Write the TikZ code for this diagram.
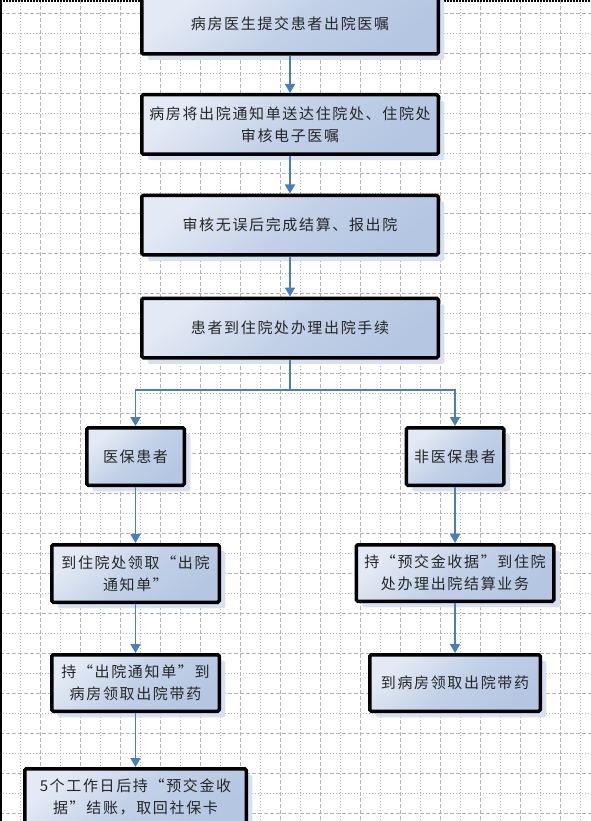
\documentclass[tikz,border=0pt]{standalone}
\usepackage{fontspec}
\newfontfamily\cjk[LetterSpace=11]{Noto Sans CJK SC}
\usepackage{tikz}
\usetikzlibrary{arrows.meta, positioning, calc, shadows}

\definecolor{flowblue}{RGB}{74,126,187}
\definecolor{boxlight}{RGB}{228,234,245}
\definecolor{boxdark}{RGB}{180,198,226}
\definecolor{shadeblue}{RGB}{214,224,241}
\definecolor{gridgray}{RGB}{180,180,180}

\begin{document}
\begin{tikzpicture}[
    x=1pt, y=-1pt,
    >=Triangle,
    box/.style={draw=black, line width=3.5pt, rounded corners=1.5pt,
        top color=boxlight, bottom color=boxdark, middle color=boxdark!70!boxlight,
        shading angle=40, inner sep=0pt, align=center,
        font=\cjk\fontsize{15}{22}\selectfont, text=black!85,
        drop shadow={shadow xshift=6pt, shadow yshift=-6pt, fill=shadeblue, opacity=1}},
    flow/.style={draw=flowblue, line width=1.8pt, -{Triangle[width=10pt, length=9pt]}},
    major/.style={gridgray, line width=0.8pt, dash pattern=on 4pt off 2pt},
    minor/.style={gridgray, line width=0.8pt, dash pattern=on 1pt off 2pt},
]
\useasboundingbox (0, 0) rectangle (591, 821);
\clip (0, 0) rectangle (591, 821);
% === Drawing grid ===
\foreach \x in {0, 40, ..., 560} {
    \draw[major] (\x, 0) -- (\x, 821);
}
\foreach \x in {20, 60, ..., 580} {
    \draw[minor] (\x, 0) -- (\x, 821);
}
\foreach \y in {13, 53, ..., 813} {
    \draw[major] (0, \y) -- (591, \y);
}
\foreach \y in {33, 73, ..., 813} {
    \draw[minor] (0, \y) -- (591, \y);
}
% Page edges
\draw[line width=2.5pt] (1.2, 0) -- (1.2, 821);
\draw[line width=2pt, dash pattern=on 2pt off 1pt] (0, 1) -- (591, 1);
% === Main column ===
\node[box, minimum width=296.5, minimum height=60] (prescribe) at (290, 24) {病房医生提交患者出院医嘱};
\node[box, minimum width=296.5, minimum height=59.5] (notice) at (290, 124.5) {病房将出院通知单送达住院处、住院处\\审核电子医嘱};
\node[box, minimum width=296.5, minimum height=59.5] (settle) at (290, 225) {审核无误后完成结算、报出院};
\node[box, minimum width=296.5, minimum height=59.5] (procedure) at (290, 328) {患者到住院处办理出院手续};
\draw[flow] (prescribe) -- (notice);
\draw[flow] (notice) -- (settle);
\draw[flow] (settle) -- (procedure);
% === Branches ===
\node[box, minimum width=97.5, minimum height=57.5] (insured) at (135.5, 456.5) {医保患者};
\node[box, minimum width=97.5, minimum height=57.5] (uninsured) at (455, 456.5) {非医保患者};
\coordinate (fork) at (290, 390);
\draw[flow] (procedure.south) -- (fork) -| (insured.north);
\draw[flow] (procedure.south) -- (fork) -| (uninsured.north);
% Left: insured patients
\node[box, minimum width=167.5, minimum height=57.5] (getnotice) at (135.5, 573.5) {到住院处领取“出院\\通知单”};
\node[box, minimum width=167.5, minimum height=56.5] (getmed) at (135.5, 683) {持“出院通知单”到\\病房领取出院带药};
\node[box, minimum width=221.5, minimum height=56.5] (checkout) at (135.5, 797) {5个工作日后持“预交金收\\据”结账，取回社保卡};
\draw[flow] (insured) -- (getnotice);
\draw[flow] (getnotice) -- (getmed);
\draw[flow] (getmed) -- (checkout);
% Right: uninsured patients
\node[box, minimum width=197.5, minimum height=56.5] (payslip) at (455, 573) {持“预交金收据”到住院\\处办理出院结算业务};
\node[box, minimum width=170.5, minimum height=56.5] (wardmed) at (455, 683) {到病房领取出院带药};
\draw[flow] (uninsured) -- (payslip);
\draw[flow] (payslip) -- (wardmed);
\end{tikzpicture}
\end{document}
